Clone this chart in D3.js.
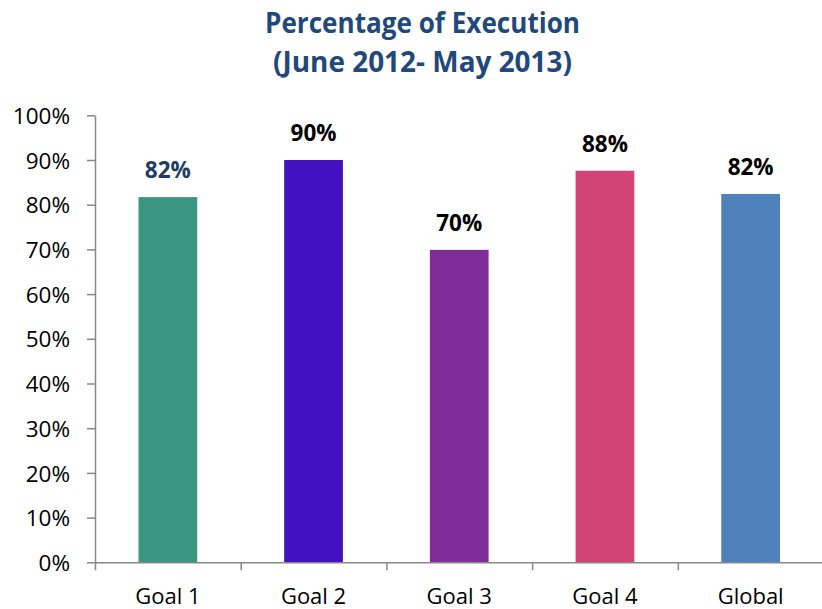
<!DOCTYPE html>
<html>
<head>
<meta charset="utf-8">
<script src="https://cdn.jsdelivr.net/npm/d3@7"></script>
<style>
  html, body { margin: 0; padding: 0; background: #fff; }
  svg { display: block; font-family: "Open Sans", "Noto Sans", sans-serif; }
  .axis path, .axis line { stroke: #878787; stroke-width: 1.5; }
  .axis text { fill: #000; }
</style>
</head>
<body>
<div class="graph-container"></div>
<script>
// Chart data
const titleLines = ['Percentage of Execution', '(June 2012- May 2013)'];
const categories = ['Goal 1', 'Goal 2', 'Goal 3', 'Goal 4', 'Global'];
const values = [0.817, 0.900, 0.699, 0.876, 0.824];
const yTicks = [0, 0.1, 0.2, 0.3, 0.4, 0.5, 0.6, 0.7, 0.8, 0.9, 1.0];

const palette = ['#3a9680', '#4212c0', '#7e2c98', '#d24378', '#4f81bd'];
const labelColors = ['#1f3b66', '#000', '#000', '#000', '#000'];

const width = 822, height = 609;
const plot = {left: 95, right: 823.5, top: 115.3, bottom: 562.3};

const svg = d3.select('.graph-container')
              .append('svg')
              .attr('width', width)
              .attr('height', height);

// Title
const titleWidths = [315, 299];
svg.append('g')
   .selectAll('text')
   .data(titleLines)
   .join('text')
   .attr('x', 422.5)
   .attr('y', (d, i) => i === 0 ? 33.3 : 72)
   .attr('text-anchor', 'middle')
   .attr('font-size', 28)
   .attr('font-weight', 700)
   .attr('fill', '#1f497d')
   .attr('textLength', (d, i) => titleWidths[i])
   .attr('lengthAdjust', 'spacingAndGlyphs')
   .text(d => d);

// Scales
const x = d3.scaleBand()
            .domain(categories)
            .range([plot.left, plot.right]);
const xEdges = d3.scaleLinear()
                 .domain([0, categories.length])
                 .range([plot.left, plot.right]);
const y = d3.scaleLinear()
            .domain([0, 1])
            .range([plot.bottom, plot.top]);

// Bars
const barW = x.bandwidth() * 0.403;
svg.append('g')
   .selectAll('rect')
   .data(values)
   .join('rect')
   .attr('x', (d, i) => x(categories[i]) + (x.bandwidth() - barW) / 2)
   .attr('y', d => y(d))
   .attr('width', barW)
   .attr('height', d => y(0) - y(d))
   .attr('fill', (d, i) => palette[i]);

// Value labels
svg.append('g')
   .selectAll('text')
   .data(values)
   .join('text')
   .attr('x', (d, i) => x(categories[i]) + x.bandwidth() / 2)
   .attr('y', d => y(d) - 19)
   .attr('text-anchor', 'middle')
   .attr('font-size', 22.5)
   .attr('font-weight', 700)
   .attr('fill', (d, i) => labelColors[i])
   .text(d => d3.format('.0%')(d));

// Y axis
const yAxis = svg.append('g')
   .attr('class', 'axis y-axis')
   .attr('transform', `translate(${plot.left},0)`)
   .call(d3.axisLeft(y)
           .tickValues(yTicks)
           .tickFormat(d3.format('.0%'))
           .tickSize(8)
           .tickSizeOuter(0)
           .tickPadding(17));
yAxis.selectAll('text')
     .attr('font-size', 22.5)
     .attr('font-family', '"Open Sans", sans-serif')
     .attr('dy', '0.36em');

// X axis: boundary ticks and category labels
svg.append('g')
   .attr('class', 'axis x-axis')
   .attr('transform', `translate(0,${plot.bottom})`)
   .call(d3.axisBottom(xEdges)
           .tickValues(d3.range(categories.length + 1))
           .tickFormat('')
           .tickSize(8)
           .tickSizeOuter(0));

const xLabels = svg.append('g')
   .attr('class', 'axis x-labels')
   .attr('transform', `translate(0,${plot.bottom})`)
   .call(d3.axisBottom(x).tickSize(0).tickPadding(0));
xLabels.select('.domain').remove();
xLabels.selectAll('text')
       .attr('y', 42)
       .attr('dy', 0)
       .attr('font-size', 22)
       .attr('font-family', '"Open Sans", sans-serif');
</script>
</body>
</html>
